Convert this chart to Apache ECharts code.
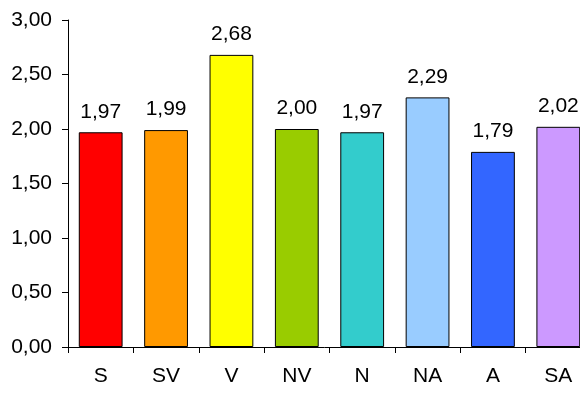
<!DOCTYPE html>
<html>
<head>
<meta charset="utf-8">
<script src="https://cdn.jsdelivr.net/npm/echarts@6/dist/echarts.min.js"></script>
<style>
  html, body { margin: 0; padding: 0; background: #fff; }
  #chart { width: 580px; height: 394px; }
</style>
</head>
<body>
<div id="chart"></div>
<script>
const categories = ['S', 'SV', 'V', 'NV', 'N', 'NA', 'A', 'SA'];
const values = [1.97, 1.99, 2.68, 2.00, 1.97, 2.29, 1.79, 2.02];
const barColors = ['#FF0000', '#FF9900', '#FFFF00', '#99CC00', '#33CCCC', '#99CCFF', '#3366FF', '#CC99FF'];

const fmt = v => Number(v).toFixed(2).replace('.', ',');
const font = 'Liberation Sans, Arial, sans-serif';

const chart = echarts.init(document.getElementById('chart'));

chart.setOption({
  backgroundColor: '#ffffff',
  animation: false,
  textStyle: { fontFamily: font },
  grid: {
    left: 68,
    top: 20,
    width: 523,
    height: 327,
    containLabel: false,
    outerBoundsMode: 'none',
  },
  xAxis: {
    type: 'category',
    data: categories,
    axisLine: { lineStyle: { color: '#000', width: 1 } },
    axisTick: { show: true, length: 6, lineStyle: { color: '#000' } },
    axisLabel: { color: '#000', fontSize: 21, margin: 19, fontFamily: font },
  },
  yAxis: {
    type: 'value',
    min: 0,
    max: 3,
    interval: 0.5,
    axisLine: { show: true, lineStyle: { color: '#000', width: 1 } },
    axisTick: { show: true, length: 6, lineStyle: { color: '#000' } },
    splitLine: { show: false },
    axisLabel: {
      color: '#000',
      fontSize: 21,
      margin: 16,
      fontFamily: font,
      formatter: fmt,
    },
  },
  series: [
    {
      type: 'bar',
      data: values.map((v, i) => ({
        value: v,
        itemStyle: { color: barColors[i] },
      })),
      barCategoryGap: '33%',
      itemStyle: { borderColor: '#000', borderWidth: 1 },
      label: {
        show: true,
        position: 'top',
        distance: 10,
        color: '#000',
        fontSize: 21,
        fontFamily: font,
        formatter: p => fmt(p.value),
      },
    },
  ],
});
</script>
</body>
</html>
